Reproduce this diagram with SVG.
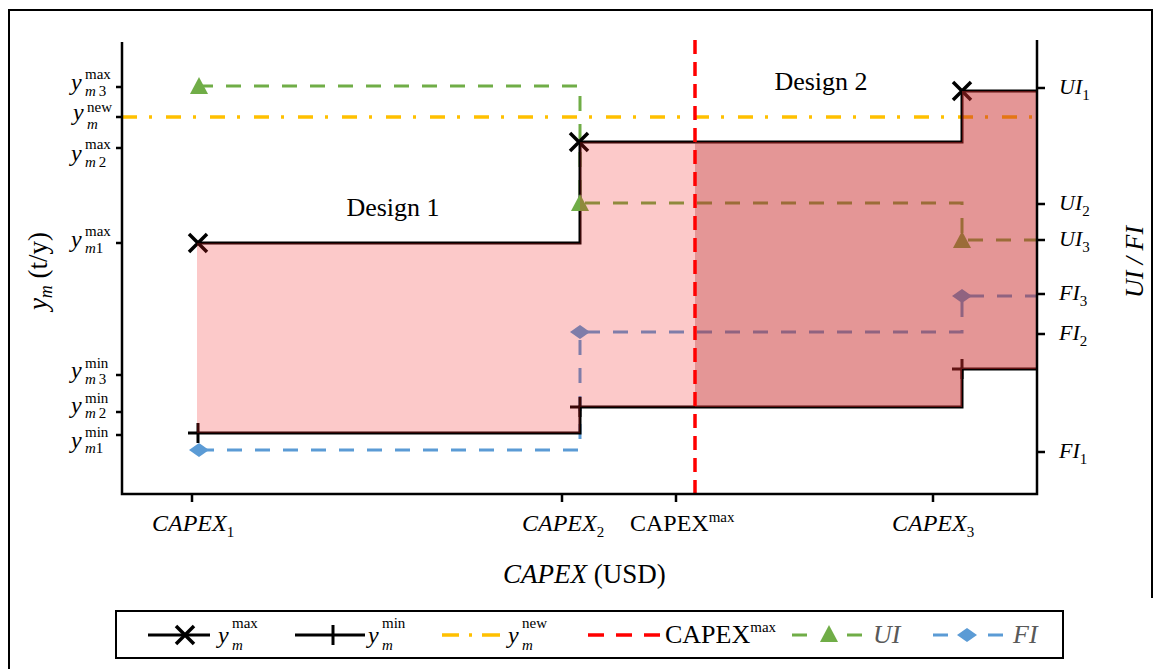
<svg xmlns="http://www.w3.org/2000/svg" width="1161" height="669" viewBox="0 0 1161 669">
<style>
text{font-family:"Liberation Serif","Times New Roman",serif;fill:#000}
.i{font-style:italic}
.n{font-style:normal}
.yv{font-size:24px;font-style:italic}
.s{font-size:15px;font-style:normal}
.lab{font-size:22px;font-style:italic}
.cx{font-size:24px}
.axis{stroke:#000;stroke-width:2.5;fill:none}
.tick{stroke:#000;stroke-width:2.5;fill:none}
.frame{stroke:#000;stroke-width:2;fill:none}
.ui{stroke:#70AD47;stroke-width:3;fill:none;stroke-dasharray:15 13}
.fi{stroke:#5B9BD5;stroke-width:3;fill:none;stroke-dasharray:15 13}
.nw{stroke:#FFC000;stroke-width:3.5;fill:none;stroke-dasharray:15 12 3 14}
.cap{stroke:#FF0000;stroke-width:3.5;fill:none;stroke-dasharray:14 8}
.blk{stroke:#000;stroke-width:3;fill:none}
.f1{fill:rgb(242,28,28);fill-opacity:0.24}
.f2{fill:rgb(200,41,41);fill-opacity:0.49}
</style>
<defs>
<path id="mx" d="M-9,-9L9,9M-9,9L9,-9" stroke="#000" stroke-width="3.5" fill="none"/>
<path id="mp" d="M0,-10V10M-10,0H0" stroke="#000" stroke-width="3" fill="none"/>
<path id="tri" d="M0,-9L9,8L-9,8Z" fill="#70AD47"/>
<path id="dia" d="M-10,0L0,-7L10,0L0,7Z" fill="#5B9BD5"/>
</defs>

<path class="frame" d="M9,669V10H1152V598"/>

<g id="series">
<path class="ui" d="M198,86H580V203H962V240H1037"/>
<path class="fi" d="M199,450H580V332H962V296H1037"/>
<path class="nw" d="M122,117H1037"/>
<path class="blk" d="M197,243H580V142H962V91H1037"/>
<path class="blk" d="M197,433H580V407H962V369H1037"/>
<use href="#tri" x="199" y="86"/>
<use href="#tri" x="580" y="203"/>
<use href="#tri" x="962" y="240"/>
<use href="#dia" x="199" y="450"/>
<use href="#dia" x="580" y="332"/>
<use href="#dia" x="962" y="296"/>
<use href="#mx" x="198" y="243"/>
<use href="#mx" x="579" y="142"/>
<use href="#mx" x="962" y="91"/>
<use href="#mp" x="198" y="433"/>
<use href="#mp" x="580" y="407"/>
<use href="#mp" x="962" y="369"/>
</g>

<g id="regions">
<path class="f1" d="M197,243H580V142H695V407H580V433H197Z"/>
<path class="f2" d="M695,142H962V91H1037V369H962V407H695Z"/>
</g>

<path class="cap" d="M695,40V494"/>

<g id="axes">
<path class="axis" d="M122,42V494H1037V40"/>
<path class="tick" d="M116,87H122M116,117H122M116,148H122M116,243H122M116,375H122M116,412H122M116,435H122"/>
<path class="tick" d="M1037,88H1045M1037,204H1045M1037,240H1045M1037,294H1045M1037,334H1045M1037,452H1045"/>
<path class="tick" d="M192,494V502M562,494V502M676,494V502M933,494V502"/>
</g>

<g id="ylabels">
<text class="yv" x="71" y="90">y</text><text class="s" x="85" y="79">max</text><text class="s" x="85" y="96"><tspan class="i">m</tspan><tspan dx="3">3</tspan></text>
<text class="yv" x="73" y="120">y</text><text class="s" x="87" y="112">new</text><text class="s" x="87" y="129"><tspan class="i">m</tspan></text>
<text class="yv" x="71" y="161">y</text><text class="s" x="85" y="149">max</text><text class="s" x="85" y="167"><tspan class="i">m</tspan><tspan dx="3">2</tspan></text>
<text class="yv" x="71" y="247">y</text><text class="s" x="85" y="236">max</text><text class="s" x="85" y="253"><tspan class="i">m</tspan>1</text>
<text class="yv" x="71" y="378">y</text><text class="s" x="85" y="368">min</text><text class="s" x="85" y="384"><tspan class="i">m</tspan><tspan dx="3">3</tspan></text>
<text class="yv" x="71" y="413">y</text><text class="s" x="85" y="403">min</text><text class="s" x="85" y="418"><tspan class="i">m</tspan><tspan dx="3">2</tspan></text>
<text class="yv" x="71" y="448">y</text><text class="s" x="85" y="437">min</text><text class="s" x="85" y="453"><tspan class="i">m</tspan>1</text>
</g>

<g id="rlabels">
<text class="lab" x="1059" y="94">UI<tspan class="s" dy="6">1</tspan></text>
<text class="lab" x="1059" y="210">UI<tspan class="s" dy="6">2</tspan></text>
<text class="lab" x="1059" y="246">UI<tspan class="s" dy="6">3</tspan></text>
<text class="lab" x="1059" y="300">FI<tspan class="s" dy="6">3</tspan></text>
<text class="lab" x="1059" y="340">FI<tspan class="s" dy="6">2</tspan></text>
<text class="lab" x="1059" y="458">FI<tspan class="s" dy="6">1</tspan></text>
</g>

<g id="xlabels">
<text class="cx i" x="152" y="531">CAPEX<tspan class="s" dy="6">1</tspan></text>
<text class="cx i" x="522" y="531">CAPEX<tspan class="s" dy="6">2</tspan></text>
<text class="cx" x="630" y="531">CAPEX<tspan class="s" dy="-9">max</tspan></text>
<text class="cx i" x="892" y="531">CAPEX<tspan class="s" dy="6">3</tspan></text>
</g>

<g id="titles">
<text x="503" y="583" style="font-size:27px"><tspan class="i">CAPEX</tspan> (USD)</text>
<text transform="translate(47,271) rotate(-90)" text-anchor="middle" style="font-size:27px"><tspan class="i">y</tspan><tspan class="i" style="font-size:18px" dy="5">m</tspan><tspan dy="-5"> (t/y)</tspan></text>
<text transform="translate(1143,262) rotate(-90)" text-anchor="middle" class="i" style="font-size:26px">UI / FI</text>
<text x="393" y="216" text-anchor="middle" style="font-size:26px">Design 1</text>
<text x="821" y="90" text-anchor="middle" style="font-size:26px">Design 2</text>
</g>

<g id="legend">
<rect x="116" y="611" width="947" height="47" class="frame"/>
<path d="M148,635H210" stroke="#000" stroke-width="3"/>
<use href="#mx" x="185" y="635"/>
<text class="yv" x="218" y="643">y</text><text class="s" x="232" y="628">max</text><text class="s" x="232" y="650"><tspan class="i">m</tspan></text>
<path d="M295,635H365" stroke="#000" stroke-width="3"/>
<path d="M333,625V645" stroke="#000" stroke-width="3"/>
<text class="yv" x="368" y="643">y</text><text class="s" x="382" y="628">min</text><text class="s" x="382" y="650"><tspan class="i">m</tspan></text>
<path d="M442,635H459M469,635H472M482,635H500" stroke="#FFC000" stroke-width="3.5"/>
<text class="yv" x="508" y="643">y</text><text class="s" x="522" y="628">new</text><text class="s" x="522" y="650"><tspan class="i">m</tspan></text>
<path d="M588,635H660" stroke="#FF0000" stroke-width="3.5" stroke-dasharray="16 12"/>
<text x="665" y="643" style="font-size:26px">CAPEX<tspan class="s" dy="-11">max</tspan></text>
<path d="M792,635H807M847,635H862" stroke="#70AD47" stroke-width="3"/>
<use href="#tri" x="829" y="634"/>
<text class="i" x="873" y="643" style="font-size:26px;fill:#595959">UI</text>
<path d="M933,635H948M988,635H1003" stroke="#5B9BD5" stroke-width="3"/>
<use href="#dia" x="967" y="635"/>
<text class="i" x="1013" y="643" style="font-size:26px;fill:#595959">FI</text>
</g>
</svg>
